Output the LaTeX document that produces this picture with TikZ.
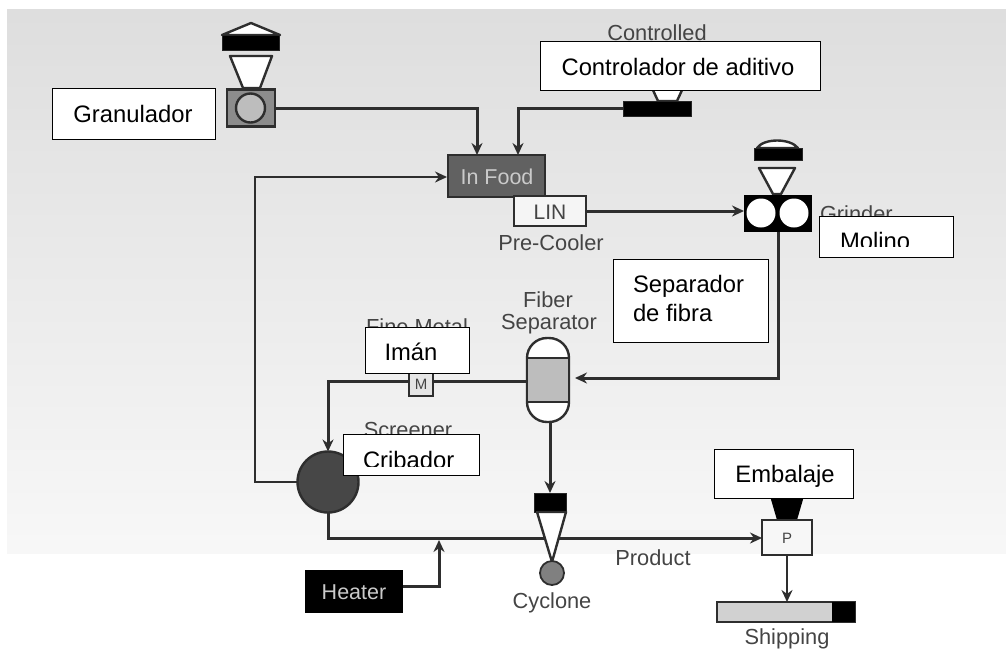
\documentclass[tikz,border=0pt]{standalone}
\usepackage{fontspec}
\setmainfont{Liberation Sans}
\usetikzlibrary{arrows.meta}
\definecolor{ink}{HTML}{2E2E2E}
\definecolor{old}{HTML}{444444}
\definecolor{pale}{HTML}{BDBDBD}
\tikzset{
  x=1pt,y=-1pt,
  every node/.style={inner sep=0pt,outer sep=0pt},
  bx/.style 2 args={minimum width=#1pt,minimum height=#2pt},
  conn/.style={draw=ink,line width=3pt},
  flow/.style={conn,-{Stealth[length=12pt,width=11pt]}},
  callout/.style={draw=black,fill=white,line width=1pt},
  newtext/.style={font=\fontsize{23.8}{29}\selectfont,text=black,anchor=base},
  oldtext/.style={font=\fontsize{21.8}{26}\selectfont,text=old,anchor=base},
  intext/.style={font=\fontsize{21.5}{26}\selectfont,text=pale!80!white,anchor=base},
  unit/.style={draw=ink,line width=2.4pt},
  funnel/.style={draw=ink,fill=white,line width=2.4pt,line join=round},
  blackbar/.style={fill=black,draw=black!85,line width=0.8pt},
}
\begin{document}
\begin{tikzpicture}
\useasboundingbox (0,0) rectangle (1006,649);
% background panel
\fill[top color=white!87!black,bottom color=white!97!black] (7,9) rectangle (1006,553);

% labels that lie under the callouts
\node[oldtext] (tControlled) at (657,40) {Controlled};
\node[oldtext,anchor=base west] (tGrinder) at (820,221) {Grinder};
\node[oldtext] (tFineMetal) at (417,334) {Fine Metal};
\node[oldtext] (tScreener) at (408,437) {Screener};

% granulator
\draw[funnel] (222,35) -- (251,23) -- (280,35) -- cycle;
\node[blackbar,bx={57}{15}] (gbar) at (251,42.5) {};
\draw[funnel] (230,56) -- (272,56) -- (260,88) -- (243,88) -- cycle;
\node[unit,fill=black!45,bx={48}{37}] (gran) at (251,108) {};
\node[draw=ink,line width=2.4pt,fill=pale,circle,minimum size=29pt] (granc) at (250.5,108) {};

% additive feeder
\draw[funnel] (652,88) -- (683,88) -- (677,101) -- (658,101) -- cycle;
\node[blackbar,bx={68}{15}] (addbar) at (657,108.5) {};

% in-feed and pre-cooler
\node[fill=black!62,draw=ink,line width=1.8pt,bx={97}{42}] (food) at (496.5,176) {};
\node[intext] (tFood) at (497,184) {In Food};
\node[unit,fill=white!96!black,bx={72}{30}] (lin) at (550,211) {};
\node[oldtext,font=\fontsize{21}{26}\selectfont] (tLin) at (550,219) {LIN};
\node[oldtext] (tPre) at (551,250) {Pre-Cooler};
\coordinate (foodA) at (477,155);
\coordinate (foodB) at (518,155);
\coordinate (foodW) at (447,177);

% grinder
\draw[funnel] (757,148) .. controls (764,138) and (790,138) .. (798,148) -- cycle;
\node[blackbar,bx={48}{12}] (grbar) at (778,154) {};
\draw[funnel] (759,168) -- (795,168) -- (781,194) -- (773,194) -- cycle;
\node[fill=black,bx={68}{37}] (grind) at (778,213.5) {};
\node[fill=white,circle,minimum size=29pt] (grc1) at (761,213) {};
\node[fill=white,circle,minimum size=29pt] (grc2) at (794,213) {};

% fibre separator
\node[oldtext] (tFiber) at (548,307) {Fiber};
\node[oldtext] (tSep) at (549,329) {Separator};
\node[unit,fill=white,rounded corners=20pt,bx={42}{84}] (sep) at (548,380) {};
\node[fill=pale,bx={40}{44}] (sepband) at (548,380) {};
\draw[unit] (sepband.north west) -- (sepband.north east);
\draw[unit] (sepband.south west) -- (sepband.south east);
\coordinate (sepE) at (575,378);
\coordinate (sepW) at (527,381);
\coordinate (sepS) at (550,422);

% screener
\node[fill=black!72,draw=ink,line width=2.4pt,circle,minimum size=61pt] (scr) at (328,482) {};
\coordinate (scrS) at (328,513);

% product line and inlet connectors
\coordinate (pIn) at (762,538);
\coordinate (hOut) at (403,586);
\coordinate (hJoin) at (439,540);
\coordinate (recT) at (255,177);

\draw[flow] (gran.east) -| (foodA);
\draw[flow] (addbar.west) -| (foodB);
\draw[flow,line width=2.4pt] (scr.west) -| (recT) -- (foodW);
\draw[flow] (lin.east) -- (lin.east -| grind.west);
\draw[flow] (grind.south) |- (sepE);
\draw[flow] (sepW) -| (scr.north);
\draw[flow] (scrS) |- (pIn);
\draw[flow] (hOut) -| (hJoin);

% metal detector
\node[unit,fill=white!90!black,bx={24}{26},line width=1.6pt] (metal) at (421,383) {};
\node[oldtext,font=\fontsize{15}{18}\selectfont] (tM) at (421,389) {M};

% cyclone
\node[blackbar,bx={32}{19}] (cyc) at (550,502.5) {};
\draw[funnel] (537,512) -- (566,512) -- (552,562) -- cycle;
\node[draw=ink,line width=1.8pt,fill=black!50,circle,minimum size=24pt] (ball) at (552,573) {};
\node[oldtext] (tCyc) at (552,608) {Cyclone};
\draw[flow] (sepS) -- (sepS |- cyc.north);

% heater
\node[fill=black,bx={98}{43}] (heat) at (354,591.5) {};
\node[intext] (tHeat) at (354,599) {Heater};

% packing
\fill[black] (770,496) -- (804,496) -- (797,520) -- (777,520) -- cycle;
\node[unit,fill=white!97!black,bx={50}{35}] (pack) at (787,537.5) {};
\node[oldtext,font=\fontsize{15}{18}\selectfont] (tP) at (787,543) {P};
\node[oldtext] (tProd) at (653,565) {Product};
\node[unit,fill=white!82!black,bx={138}{20}] (ship) at (786,612) {};
\node[fill=black,bx={23}{20}] (shipe) at (843.5,612) {};
\node[oldtext] (tShip) at (787,644.3) {Shipping};
\draw[conn,line width=2.2pt,-{Stealth[length=12pt,width=11pt]}] (pack.south) -- (pack.south |- ship.north);

% callouts
\node[callout,bx={163}{51}] (cGran) at (133.5,113.5) {};
\node[newtext] (tGran) at (133,122) {Granulador};
\node[callout,bx={280}{49}] (cAdd) at (680,66) {};
\node[newtext] (tAdd) at (678,75) {Controlador de aditivo};
\node[callout,bx={134}{41}] (cMol) at (886,236.5) {};
\node[callout,bx={155}{83}] (cSep) at (690.5,300.5) {};
\node[newtext,anchor=base west] (tSepa) at (633,292) {Separador};
\node[newtext,anchor=base west] (tFibra) at (633,321) {de fibra};
\node[callout,bx={104}{46}] (cIman) at (417,350) {};
\node[newtext] (tIman) at (411,360) {Imán};
\node[callout,bx={136}{41}] (cCri) at (411,454.5) {};
\node[callout,bx={139}{49}] (cEmb) at (783.5,473.5) {};
\node[newtext] (tEmb) at (785,482) {Embalaje};
\begin{scope}
  \clip (819,216) rectangle (953,246);
  \node[newtext,anchor=base west] (tMol) at (840,249) {Molino};
\end{scope}
\begin{scope}
  \clip (343,434) rectangle (479,466);
  \node[newtext,anchor=base west] (tCri) at (363,468) {Cribador};
\end{scope}
\end{tikzpicture}
\end{document}
